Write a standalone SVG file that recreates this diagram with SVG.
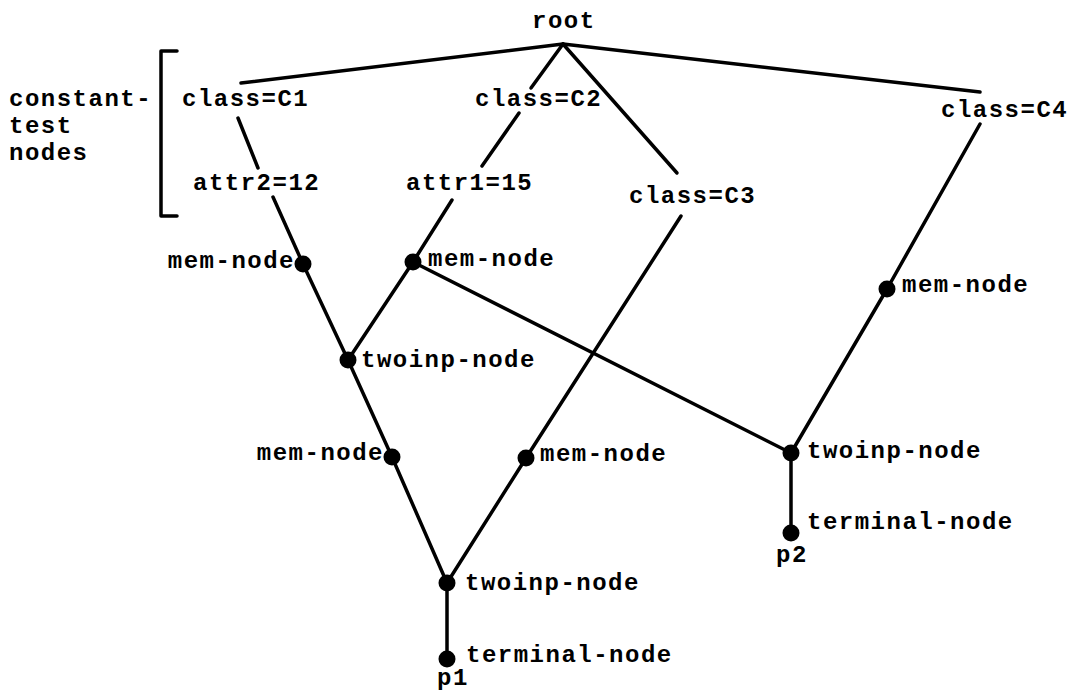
<svg xmlns="http://www.w3.org/2000/svg" width="1071" height="691" viewBox="0 0 1071 691">
  <style>
    text { font-family: "Liberation Mono", "DejaVu Sans Mono", monospace; font-size: 24px; font-weight: bold; letter-spacing: 1.5px; fill: #000; }
    .edge { stroke: #000; stroke-width: 3.5; fill: none; stroke-linecap: round; stroke-linejoin: round; }
    .dot { fill: #000; }
  </style>
  <rect width="1071" height="691" fill="#fff"/>

  <!-- connectors -->
  <g id="connectors" class="edge">
    <line x1="563" y1="44" x2="241" y2="83"/>
    <line x1="563" y1="44" x2="531" y2="88"/>
    <line x1="563" y1="44" x2="677" y2="173"/>
    <line x1="563" y1="44" x2="980" y2="92"/>
    <line x1="238" y1="118" x2="258" y2="168"/>
    <line x1="273" y1="197" x2="303" y2="264"/>
    <line x1="519" y1="113" x2="482" y2="166"/>
    <line x1="452" y1="200" x2="413" y2="262"/>
    <line x1="681" y1="216" x2="526" y2="458"/>
    <line x1="980" y1="124" x2="887" y2="289"/>
    <polyline points="303,264 348,360 392,457 447,583 447,659"/>
    <line x1="413" y1="262" x2="348" y2="360"/>
    <line x1="526" y1="458" x2="447" y2="583"/>
    <line x1="413" y1="262" x2="791" y2="453"/>
    <polyline points="887,289 791,453 791,533"/>
  </g>

  <!-- constant-test group bracket -->
  <g id="bracket">
    <path class="edge" d="M177,51 H161 V216 H177" stroke-linecap="butt"/>
    <text x="9" y="106">constant-</text>
    <text x="9" y="133">test</text>
    <text x="9" y="160">nodes</text>
  </g>

  <g id="root"><text x="532" y="28">root</text></g>
  <g id="class-c1"><text x="182" y="106">class=C1</text></g>
  <g id="class-c2"><text x="475" y="106">class=C2</text></g>
  <g id="class-c3"><text x="629" y="203">class=C3</text></g>
  <g id="class-c4"><text x="941" y="117">class=C4</text></g>
  <g id="attr2"><text x="193" y="190">attr2=12</text></g>
  <g id="attr1"><text x="406" y="190">attr1=15</text></g>

  <g id="mem-c1"><circle class="dot" cx="303" cy="264" r="8.5"/><text x="295" y="268" text-anchor="end">mem-node</text></g>
  <g id="mem-c2"><circle class="dot" cx="413" cy="262" r="8.5"/><text x="428" y="266">mem-node</text></g>
  <g id="twoinp-1"><circle class="dot" cx="348" cy="360" r="8.5"/><text x="361" y="367">twoinp-node</text></g>
  <g id="mem-j1"><circle class="dot" cx="392" cy="457" r="8.5"/><text x="384" y="460" text-anchor="end">mem-node</text></g>
  <g id="mem-c3"><circle class="dot" cx="526" cy="458" r="8.5"/><text x="540" y="461">mem-node</text></g>
  <g id="twoinp-2"><circle class="dot" cx="447" cy="583" r="8.5"/><text x="465" y="590">twoinp-node</text></g>
  <g id="terminal-p1"><circle class="dot" cx="447" cy="659" r="8.5"/><text x="466" y="662">terminal-node</text><text x="437" y="685">p1</text></g>

  <g id="mem-c4"><circle class="dot" cx="887" cy="289" r="8.5"/><text x="902" y="292">mem-node</text></g>
  <g id="twoinp-3"><circle class="dot" cx="791" cy="453" r="8.5"/><text x="807" y="458">twoinp-node</text></g>
  <g id="terminal-p2"><circle class="dot" cx="791" cy="533" r="8.5"/><text x="807" y="529">terminal-node</text><text x="776" y="562">p2</text></g>
</svg>
